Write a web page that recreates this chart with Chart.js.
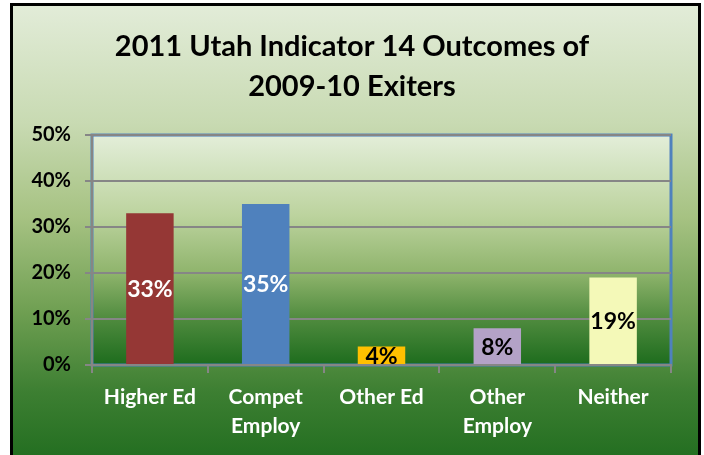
<!DOCTYPE html>
<html>
<head>
<meta charset="utf-8">
<script src="https://cdn.jsdelivr.net/npm/chart.js@4/dist/chart.umd.min.js"></script>
<style>
  body { margin: 0; width: 704px; height: 455px; overflow: hidden; background: #fff; }
  #frame {
    position: absolute; left: 10px; top: 3px; width: 685px; height: 470px;
    border: 3px solid #000;
    background: linear-gradient(to bottom, #e2ecd8 0%, #c8dab2 25%, #a6c282 45%, #6f9f52 65%, #3d7f32 82%, #1c6a1c 100%);
  }
  #wrap { position: absolute; left: 0; top: 0; width: 704px; height: 455px; }
</style>
</head>
<body>
<div id="frame"></div>
<div id="wrap"><canvas id="outcomes"></canvas></div>
<script>
var cats = ["Higher Ed", ["Compet", "Employ"], "Other Ed", ["Other", "Employ"], "Neither"];
var pcts = [33, 35, 4, 8, 19];
var colors = ["#953735", "#4f81bd", "#ffc000", "#b3a2c7", "#f4f9b8"];
var labelColors = ["#ffffff", "#ffffff", "#000000", "#000000", "#000000"];
var yTicks = [0, 10, 20, 30, 40, 50];

// plot area gradient + blue frame
var plotBg = {
  id: "plotBg",
  beforeDraw: function(chart){
    var a = chart.chartArea, ctx = chart.ctx;
    var g = ctx.createLinearGradient(0, a.top, 0, a.bottom);
    g.addColorStop(0, "#e3eed9");
    g.addColorStop(0.35, "#bcd39e");
    g.addColorStop(0.6, "#8fb46c");
    g.addColorStop(0.8, "#4f8b3e");
    g.addColorStop(1, "#1d6c1d");
    ctx.save();
    ctx.fillStyle = g;
    ctx.fillRect(a.left, a.top, a.right - a.left, a.bottom - a.top);
    ctx.strokeStyle = "#4f81bd";
    ctx.lineWidth = 3;
    ctx.strokeRect(a.left, a.top, a.right - a.left, a.bottom - a.top);
    ctx.restore();
  }
};

// values inside bars
var barLabels = {
  id: "barLabels",
  afterDatasetsDraw: function(chart){
    var ctx = chart.ctx;
    var meta = chart.getDatasetMeta(0);
    ctx.save();
    ctx.font = "bold 23px Lato";
    ctx.textAlign = "center";
    ctx.textBaseline = "middle";
    meta.data.forEach(function(bar, i){
      ctx.fillStyle = labelColors[i];
      ctx.fillText(pcts[i] + "%", bar.x, (bar.y + bar.base) / 2 + 1);
    });
    ctx.restore();
  }
};

new Chart(document.getElementById("outcomes"), {
  type: "bar",
  data: {
    labels: cats,
    datasets: [{ data: pcts, backgroundColor: colors, borderWidth: 0,
                 barPercentage: 0.41, categoryPercentage: 1 }]
  },
  options: {
    responsive: true,
    maintainAspectRatio: false,
    animation: false,
    layout: { padding: 0 },
    plugins: {
      legend: { display: false },
      tooltip: { enabled: false },
      title: {
        display: true,
        text: ["2011 Utah Indicator 14 Outcomes of", "2009-10 Exiters"],
        color: "#000",
        font: { family: "Lato", size: 29, weight: "bold", lineHeight: 1.38 },
        padding: { top: 27, bottom: 28 }
      }
    },
    scales: {
      y: {
        min: 0, max: 50,
        afterFit: function(s){ s.width = 92; },
        afterBuildTicks: function(s){ s.ticks = yTicks.map(function(v){ return { value: v }; }); },
        ticks: { color: "#000", padding: 14, font: { family: "Lato", size: 20, weight: "bold" },
                 callback: function(v){ return v + "%"; } },
        grid: { color: "#868686", lineWidth: 2, tickLength: 7 },
        border: { color: "#868686", width: 2 }
      },
      // empty right gutter so the title stays centred on the whole frame
      yRight: {
        position: "right",
        afterFit: function(s){ s.width = 33; },
        ticks: { display: false },
        grid: { display: false, drawTicks: false },
        border: { display: false }
      },
      x: {
        afterFit: function(s){ s.height = 90; },
        ticks: { color: "#fff", padding: 9, font: { family: "Lato", size: 21, weight: "bold", lineHeight: 1.42 } },
        grid: { drawOnChartArea: false, drawTicks: true, tickLength: 8, color: "#868686", lineWidth: 2 },
        border: { color: "#868686", width: 2 }
      }
    }
  },
  plugins: [plotBg, barLabels]
});
</script>
</body>
</html>
